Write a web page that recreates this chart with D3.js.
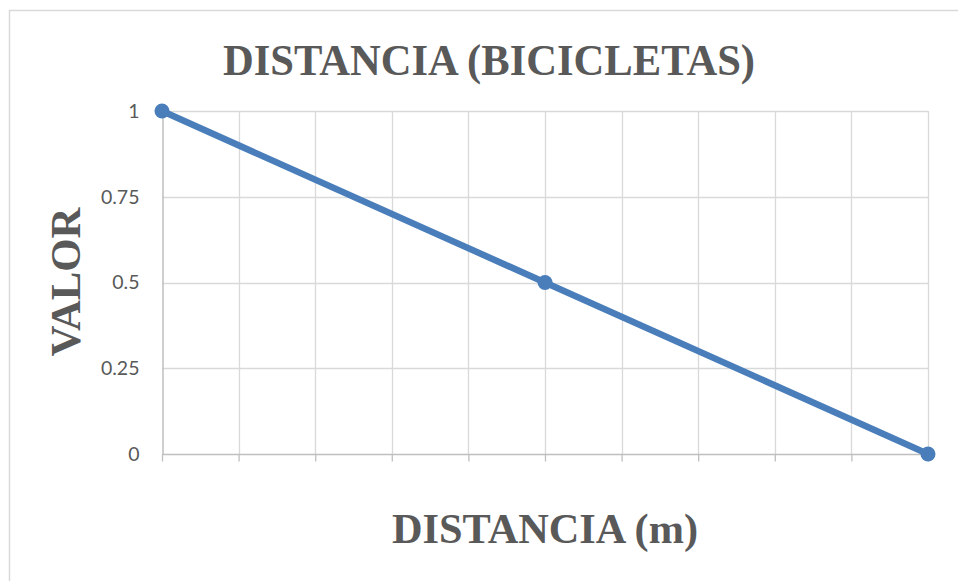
<!DOCTYPE html>
<html>
<head>
<meta charset="utf-8">
<script src="https://cdn.jsdelivr.net/npm/d3@7/dist/d3.min.js"></script>
<style>
  html, body { margin: 0; padding: 0; background: #ffffff; }
  svg { display: block; }
</style>
</head>
<body>
<div id="chart"></div>
<script>
// Series: distance steps and the value at each one
const distances = [0, 5, 10];
const values = [1, 0.5, 0];

// Axis ticks
const xTicks = [0, 1, 2, 3, 4, 5, 6, 7, 8, 9, 10];
const yTicks = [0, 0.25, 0.5, 0.75, 1];
const yTickLabels = ["0", "0.25", "0.5", "0.75", "1"];

const titleText = "DISTANCIA (BICICLETAS)";
const xTitle = "DISTANCIA (m)";
const yTitle = "VALOR";

const W = 958, H = 581;
const plot = { left: 162, right: 928, top: 111, bottom: 454 };

const svg = d3.select("#chart").append("svg")
  .attr("width", W).attr("height", H);

// Chart frame
svg.append("rect")
  .attr("x", 9.5).attr("y", 10.5)
  .attr("width", 1000).attr("height", 700)
  .attr("fill", "#ffffff")
  .attr("stroke", "#d9d9d9").attr("stroke-width", 1.5);

const x = d3.scaleLinear().domain([0, 10]).range([plot.left, plot.right]);
const y = d3.scaleLinear().domain([0, 1]).range([plot.bottom, plot.top]);

// Gridlines
const grid = svg.append("g");
grid.selectAll("line.h").data(yTicks.filter(d => d > 0)).join("line")
  .attr("x1", plot.left).attr("x2", plot.right)
  .attr("y1", d => Math.round(y(d)) + 0.5).attr("y2", d => Math.round(y(d)) + 0.5)
  .attr("stroke", "#d9d9d9").attr("stroke-width", 1.3);
grid.selectAll("line.v").data(xTicks.filter(d => d > 0)).join("line")
  .attr("x1", d => Math.round(x(d)) + 0.5).attr("x2", d => Math.round(x(d)) + 0.5)
  .attr("y1", plot.top).attr("y2", plot.bottom)
  .attr("stroke", "#d9d9d9").attr("stroke-width", 1.3);

// X axis: line with tick marks, no labels
const xAxis = svg.append("g")
  .attr("transform", `translate(0,${Math.round(y(0)) + 0.5})`)
  .call(d3.axisBottom(x).tickValues(xTicks).tickSize(7).tickFormat(""));
xAxis.select(".domain").attr("stroke", "#bfbfbf").attr("stroke-width", 1.5)
  .attr("d", `M${plot.left},0H${plot.right}`);
xAxis.selectAll(".tick line").attr("stroke", "#bfbfbf").attr("stroke-width", 1.3);

// Y axis: line and labels
const yAxis = svg.append("g")
  .attr("transform", `translate(${Math.round(x(0)) + 0.5},0)`)
  .call(d3.axisLeft(y).tickValues(yTicks).tickSize(0).tickPadding(23)
    .tickFormat((d, i) => yTickLabels[i]));
yAxis.select(".domain").attr("stroke", "#bfbfbf").attr("stroke-width", 1.5);
yAxis.selectAll(".tick text")
  .attr("fill", "#595959")
  .style("font-family", "Lato, 'Open Sans', sans-serif")
  .style("font-weight", "400")
  .style("font-size", "19.5px");

// Data line and markers
const line = d3.line().x((d, i) => x(distances[i])).y(d => y(d));
svg.append("path")
  .datum(values)
  .attr("d", line)
  .attr("fill", "none")
  .attr("stroke", "#4a7ebb")
  .attr("stroke-width", 6.5)
  .attr("stroke-linejoin", "round")
  .attr("stroke-linecap", "round");
svg.selectAll("circle.pt").data(values).join("circle")
  .attr("class", "pt")
  .attr("cx", (d, i) => x(distances[i]))
  .attr("cy", d => y(d))
  .attr("r", 7.5)
  .attr("fill", "#4a7ebb");

// Titles
const serif = "'Liberation Serif', 'Times New Roman', serif";
svg.append("text")
  .attr("x", 489).attr("y", 75)
  .attr("text-anchor", "middle")
  .attr("textLength", 532).attr("lengthAdjust", "spacingAndGlyphs")
  .style("font-family", serif).style("font-weight", "bold").style("font-size", "45px")
  .attr("fill", "#595959")
  .text(titleText);

svg.append("text")
  .attr("x", 545).attr("y", 543)
  .attr("text-anchor", "middle")
  .attr("textLength", 306).attr("lengthAdjust", "spacingAndGlyphs")
  .style("font-family", serif).style("font-weight", "bold").style("font-size", "42px")
  .attr("fill", "#595959")
  .text(xTitle);

svg.append("text")
  .attr("transform", "translate(80,282) rotate(-90)")
  .attr("text-anchor", "middle")
  .attr("textLength", 149).attr("lengthAdjust", "spacingAndGlyphs")
  .style("font-family", serif).style("font-weight", "bold").style("font-size", "42px")
  .attr("fill", "#595959")
  .text(yTitle);
</script>
</body>
</html>
